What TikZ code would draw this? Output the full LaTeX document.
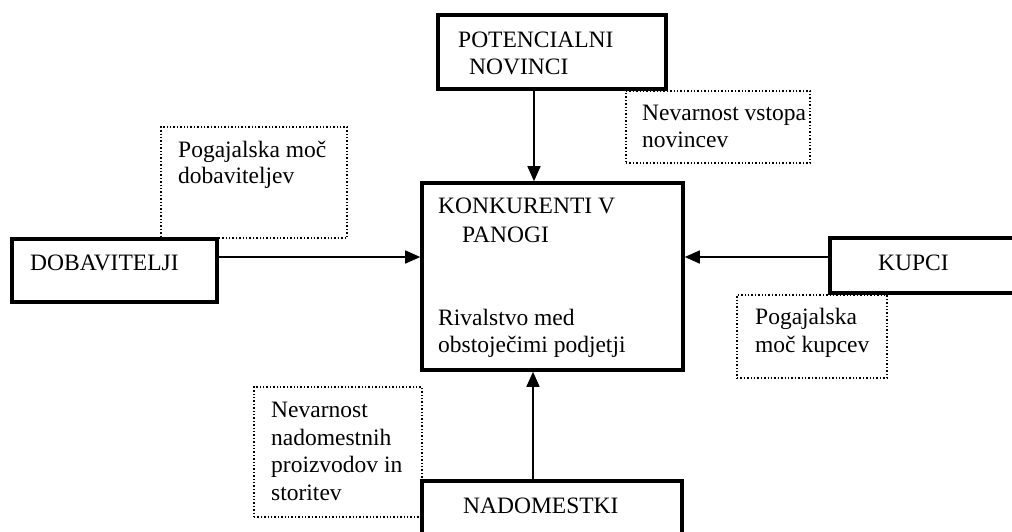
\documentclass[tikz,border=0pt]{standalone}
\usepackage{fontspec}
\setmainfont{Liberation Serif}
\usetikzlibrary{fit,arrows.meta}
\begin{document}
\begin{tikzpicture}[x=1pt,y=-1pt,
  thickbox/.style={draw=black,line width=3.6pt,inner sep=0pt,fill=white},
  dotbox/.style={draw=black,line width=1.4pt,dotted,inner sep=0pt},
  lbl/.style={anchor=base west,inner sep=0pt,font=\fontsize{23.5pt}{27pt}\selectfont},
  arr/.style={line width=1.6pt,-{Triangle[length=15pt,width=13pt]}}]
\useasboundingbox (0,0) rectangle (1012,531);
\clip (0,0) rectangle (1012,531);
% dotted boxes
\node[dotbox,fit={(161,127) (347,238)}] (d1) {};
\node[dotbox,fit={(626,91) (810,163)}] (d2) {};
\node[dotbox,fit={(737,295) (887,378)}] (d3) {};
\node[dotbox,fit={(254,387) (422,517)}] (d4) {};
% thick boxes
\node[thickbox,fit={(438,15) (666,89)}] (pot) {};
\node[thickbox,fit={(422,183) (683,370)}] (kon) {};
\node[thickbox,fit={(12,239) (217,302)}] (dob) {};
\node[thickbox,fit={(830,238) (1040,293)}] (kup) {};
\node[thickbox,fit={(422,481) (682,570)}] (nad) {};
% texts
\node[lbl] (t1) at (458,47) {POTENCIALNI};
\node[lbl] (t2) at (469,74) {NOVINCI};
\node[lbl] (t3) at (438,213) {KONKURENTI V};
\node[lbl] (t4) at (462,242) {PANOGI};
\node[lbl] (t5) at (438,325) {Rivalstvo med};
\node[lbl] (t6) at (438,352) {obstoječimi podjetji};
\node[lbl] (t7) at (30,270) {DOBAVITELJI};
\node[lbl] (t8) at (878,270) {KUPCI};
\node[lbl] (t9) at (463,513) {NADOMESTKI};
\node[lbl] (t10) at (178,157) {Pogajalska moč};
\node[lbl] (t11) at (178,183) {dobaviteljev};
\node[lbl] (t12) at (642,120) {Nevarnost vstopa};
\node[lbl] (t13) at (642,147) {novincev};
\node[lbl] (t14) at (755,324) {Pogajalska};
\node[lbl] (t15) at (755,352) {moč kupcev};
\node[lbl] (t16) at (271,417) {Nevarnost};
\node[lbl] (t17) at (271,445) {nadomestnih};
\node[lbl] (t18) at (271,472) {proizvodov in};
\node[lbl] (t19) at (271,500) {storitev};
% connectors
\coordinate (ax) at (534,0);
\coordinate (bx) at (533,0);
\coordinate (ay) at (0,257);
\draw[arr] (pot.south -| ax) -- (kon.north -| ax);
\draw[arr] (nad.north -| bx) -- (kon.south -| bx);
\draw[arr] (dob.east |- ay) -- (kon.west |- ay);
\draw[arr] (kup.west |- ay) -- (kon.east |- ay);
\end{tikzpicture}
\end{document}
